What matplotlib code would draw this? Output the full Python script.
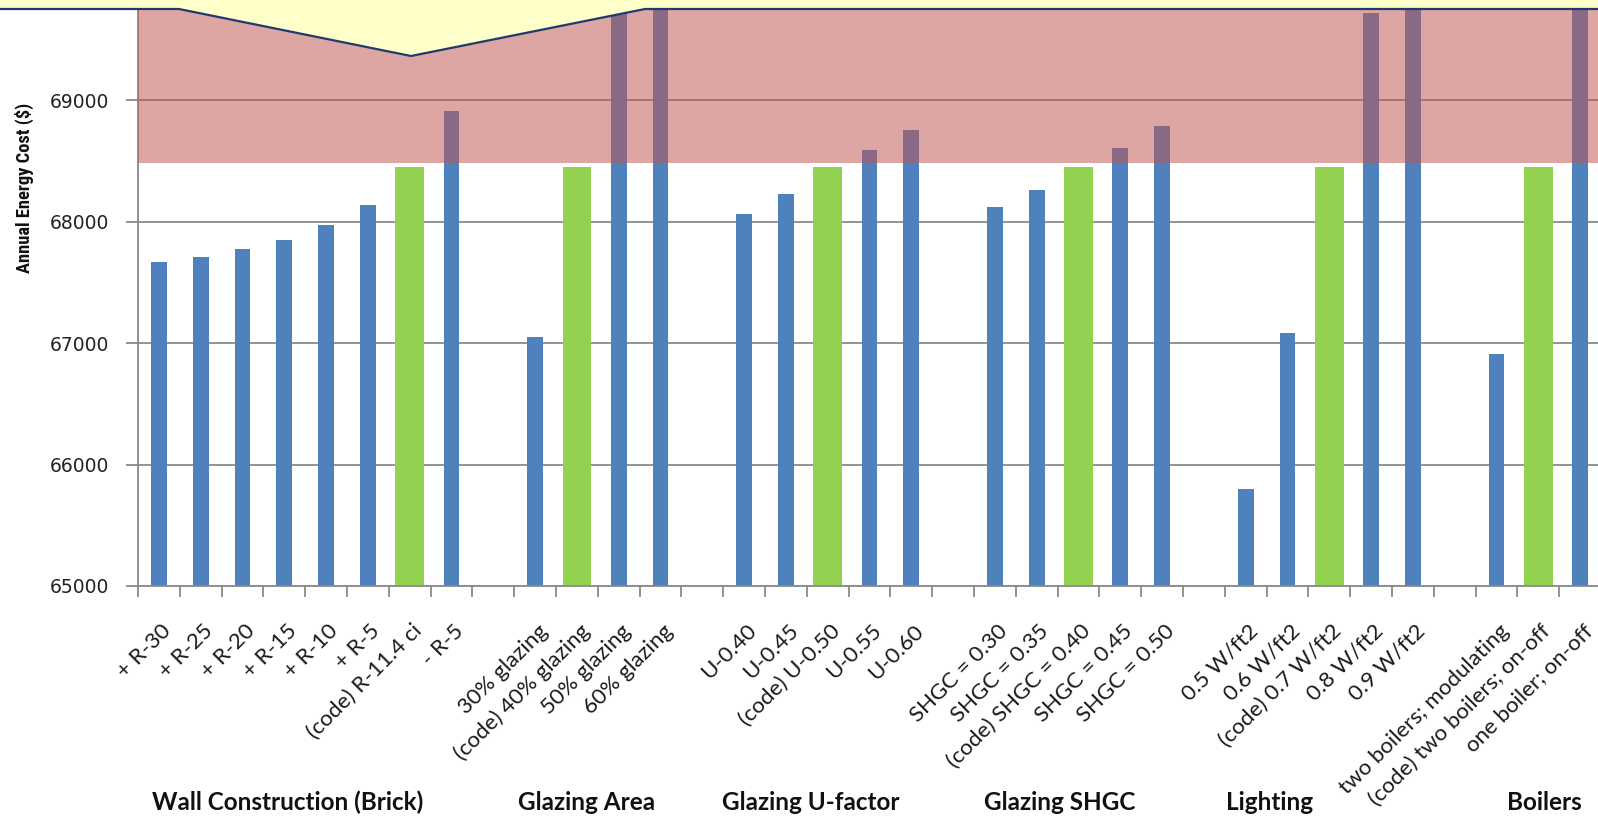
import matplotlib
matplotlib.use("Agg")
import matplotlib.pyplot as plt
import matplotlib.transforms as mtransforms
from matplotlib.patches import Polygon
from matplotlib import font_manager
import numpy as np

# ---------------- data ----------------
categories = [
    "+ R-30", "+ R-25", "+ R-20", "+ R-15", "+ R-10", "+ R-5", "(code) R-11.4 ci", "- R-5", "",
    "30% glazing", "(code) 40% glazing", "50% glazing", "60% glazing", "",
    "U-0.40", "U-0.45", "(code) U-0.50", "U-0.55", "U-0.60", "",
    "SHGC = 0.30", "SHGC = 0.35", "(code) SHGC = 0.40", "SHGC = 0.45", "SHGC = 0.50", "",
    "0.5 W/ft2", "0.6 W/ft2", "(code) 0.7 W/ft2", "0.8 W/ft2", "0.9 W/ft2", "",
    "two boilers; modulating", "(code) two boilers; on-off", "one boiler; on-off",
]
values = [
    67666, 67714, 67773, 67851, 67975, 68140, 68455, 68915, np.nan,
    67047, 68455, 70300, 70900, np.nan,
    68066, 68230, 68455, 68592, 68757, np.nan,
    68126, 68263, 68455, 68609, 68786, np.nan,
    65798, 67084, 68455, 69722, 70500, np.nan,
    66912, 68455, 71000,
]
is_code = [c.startswith("(code)") for c in categories]

group_names = ["Wall Construction (Brick)", "Glazing Area", "Glazing U-factor",
               "Glazing SHGC", "Lighting", "Boilers"]
group_label_x = [3.09, 10.22, 15.6, 21.56, 26.56, 33.14]   # layout positions (category units)

threshold = 68488   # start of shaded "over budget" band
y_ticks = [65000, 66000, 67000, 68000, 69000]

# ---------------- style ----------------
W, H = 1598, 816
BLUE = "#4F81BD"
GREEN = "#92D050"
GRID = "#8A8A8A"

fig = plt.figure(figsize=(W / 100, H / 100), dpi=100)
ax_left, ax_right, ax_bottom, ax_top = 138, 1601, 586, 0
ax = fig.add_axes([ax_left / W, 1 - ax_bottom / H, (ax_right - ax_left) / W, (ax_bottom - ax_top) / H])

n = len(categories)
x = np.arange(n)
vals_all = np.array(values, dtype=float)
mask = ~np.isnan(vals_all)
xs = x[mask]
vals = vals_all[mask]
codes = np.array(is_code)[mask]

for xi, v, c in zip(xs, vals, codes):
    ax.bar(xi, v - 65000, bottom=65000, width=0.68 if c else 0.38,
           color=GREEN if c else BLUE, zorder=2, linewidth=0)

ax.set_xlim(-0.5, n - 0.5)
ax.set_ylim(65000, 65000 + 586 / 121.4 * 1000)

ax.axhspan(threshold, 80000, color=(193 / 255, 83 / 255, 83 / 255), alpha=0.52, lw=0, zorder=3)

ax.set_yticks(y_ticks)
ax.set_yticklabels([str(t) for t in y_ticks], fontsize=13.5, family="DejaVu Sans", color="#222222")
ax.yaxis.grid(True, color=GRID, lw=1.3, zorder=1)
ax.set_axisbelow(True)
ax.tick_params(axis="y", length=9, width=1.3, color=GRID, pad=12)

ax.set_xticks(x)
ax.set_xticklabels(categories, rotation=45, ha="right", va="top", rotation_mode="anchor",
                   fontsize=16, family="Lato", color="#1a1a1a")
ax.tick_params(axis="x", which="major", length=0, pad=25)
offset = mtransforms.ScaledTranslation(1.5 / 72, 0, fig.dpi_scale_trans)
for lab in ax.get_xticklabels():
    lab.set_transform(lab.get_transform() + offset)
ax.set_xticks(np.arange(-0.5, n, 1.0), minor=True)
ax.tick_params(axis="x", which="minor", length=8, width=1.3, color=GRID)

for s in ["top", "right"]:
    ax.spines[s].set_visible(False)
for s in ["left", "bottom"]:
    ax.spines[s].set_color(GRID)
    ax.spines[s].set_linewidth(1.3)

# y-axis title: prefer a narrow bold face (as in the reference)
fonts = font_manager.fontManager.ttflist
names = {f.name for f in fonts}
cond_dejavu = any(f.name == "DejaVu Sans" and "condensed" in str(f.stretch).lower() for f in fonts)
ylab_kw = dict(family="DejaVu Sans", fontsize=9.8)
if "Liberation Sans Narrow" in names:
    ylab_kw = dict(family="Liberation Sans Narrow", fontsize=13.7)
elif "Roboto Condensed" in names:
    ylab_kw = dict(family="Roboto Condensed", fontsize=13.3)
elif "Open Sans Condensed" in names:
    ylab_kw = dict(family="Open Sans Condensed", fontsize=13.3)
elif cond_dejavu:
    ylab_kw = dict(family="DejaVu Sans", fontsize=10.8, fontstretch="condensed")
fig.text(24 / W, 1 - 188 / H, "Annual Energy Cost ($)", rotation=90, ha="center", va="center",
         fontweight="bold", color="#111111", **ylab_kw)

btrans = mtransforms.blended_transform_factory(ax.transData, fig.transFigure)
for name, gx in zip(group_names, group_label_x):
    ax.text(gx, 0.017, name, transform=btrans, ha="center", va="center",
            fontsize=17.5, fontweight="bold", family="Lato", color="#111111")

# callout shape at the top
pts = [(-5, -5), (-5, 9), (179, 9), (411, 56), (645, 9), (W + 5, 9), (W + 5, -5)]
poly = Polygon([(px / W, 1 - py / H) for px, py in pts], closed=True, transform=fig.transFigure,
               facecolor="#FFFFC9", edgecolor="#1F3A6E", lw=1.6, zorder=10)
fig.patches.append(poly)

fig.savefig("out.png", dpi=100)
